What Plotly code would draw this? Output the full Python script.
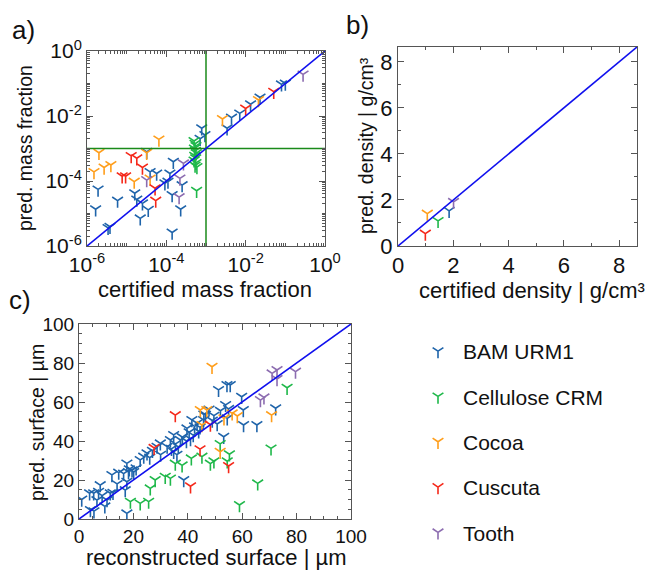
import plotly.graph_objects as go

categories = ["BAM URM1", "Cellulose CRM", "Cocoa", "Cuscuta", "Tooth"]
colors = ["#1f64aa", "#1fb84a", "#ff9e1b", "#f5281a", "#8c6cb0"]

# ---- panel a: certified vs predicted mass fraction (log-log)
a_bam_x = [3.2e-5, 3.9e-5, 5.7e-5, 1.5e-4, 1.23e-4, 1.1e-4, 1.9e-6, 5.9e-6, 1.65e-6, 1.6e-5,
           1.8e-5, 2.5e-5, 3.5e-5, 2.2e-5, 3.8e-6, 3.4e-6, 1.4e-4, 9.2e-5, 2.5e-4, 2.3e-4,
           1.4e-4, 7.8e-4, 9.4e-4, 7.1e-4, 3.4e-3, 4.4e-3, 7.1e-3, 1.33e-2, 2.3e-2, 8.0e-2, 0.10]
a_bam_y = [7.9e-4, 1.9e-4, 1.7e-4, 3.9e-4, 1.7e-4, 9.6e-5, 5.5e-5, 2.5e-5, 1.35e-5, 4.2e-5,
           2.7e-5, 2.05e-5, 1.3e-5, 7.1e-6, 3.9e-6, 3.6e-6, 3.7e-5, 8.5e-5, 7.5e-5, 1.35e-5,
           2.6e-6, 4.2e-3, 2.6e-3, 2.0e-3, 4.2e-3, 8.9e-3, 1.2e-2, 2.3e-2, 3.7e-2, 9.4e-2, 0.10]
a_cell_x = [5.0e-4, 5.3e-4, 5.6e-4, 5.1e-4, 5.4e-4, 5.7e-4, 5.2e-4, 5.5e-4, 5.0e-4, 5.6e-4,
            5.3e-4, 5.9e-4, 5.8e-4]
a_cell_y = [1.7e-3, 1.4e-3, 1.2e-3, 1.0e-3, 8.5e-4, 7.2e-4, 6.0e-4, 5.0e-4, 4.3e-4, 3.6e-4,
            3.0e-4, 2.7e-4, 5.0e-5]
a_cocoa_x = [6.5e-5, 2.0e-6, 1.5e-6, 2.7e-6, 4.0e-6, 1.55e-5, 3.2e-5, 3.9e-5, 2.6e-3, 2.1e-2]
a_cocoa_y = [1.9e-3, 7.4e-4, 1.9e-4, 2.6e-4, 3.1e-4, 9.6e-5, 7.4e-4, 1.2e-4, 8.1e-3, 3.1e-2]
a_cusc_x = [1.3e-5, 1.8e-5, 2.5e-5, 7.7e-6, 9.4e-6, 5.2e-5, 5.4e-5, 1.0e-2, 5.1e-2]
a_cusc_y = [5.9e-4, 5.0e-4, 2.6e-4, 1.4e-4, 1.4e-4, 6.0e-5, 2.5e-5, 1.7e-2, 5.6e-2]
a_tooth_x = [2.7e-4, 3.2e-5, 2.2e-4, 2.1e-4, 0.28]
a_tooth_y = [3.5e-4, 1.07e-4, 1.2e-4, 3.2e-5, 0.19]
a_limit = [1e-6, 1.0]
a_threshold = 1e-3
a_label_exp = [-6, -4, -2, 0]
a_decade_exp = [-6, -5, -4, -3, -2, -1]

# ---- panel b: density (one point per material, order as categories)
b_x = [1.85, 1.45, 1.06, 0.99, 2.01]
b_y = [1.53, 1.09, 1.41, 0.54, 1.92]
b_limit = [0, 8.65]

# ---- panel c: surface
c_bam_x = [1.0, 3.9, 5.4, 7.2, 4.2, 5.5, 7.8, 6.6, 8.5, 10.3, 11.5, 12.5, 12.1, 14.6, 16.4,
           18.2, 19.5, 20.1, 17.6, 18.5, 17.6, 17.0, 17.6, 22.5, 23.8, 25.0, 26.0, 28.7, 29.9,
           32.4, 33.6, 34.8, 34.0, 34.8, 35.5, 36.5, 37.3, 38.0, 39.7, 40.5, 41.5, 42.5, 43.4,
           44.0, 45.8, 46.5, 45.9, 47.8, 49.6, 49.0, 50.8, 52.0, 53.9, 55.0, 54.5, 51.3, 54.4,
           55.6, 59.8, 60.4, 72.3, 60.5, 65.4, 53.2, 38.5, 41.0, 42.0, 36.0, 30.0, 27.0, 44.5,
           39.5, 9.5, 14.0, 21.0]
c_bam_y = [10.0, 13.2, 13.2, 14.0, 4.6, 4.0, 17.4, 9.7, 12.0, 9.7, 13.2, 13.5, 22.6, 23.8, 23.3,
           24.1, 25.0, 24.1, 28.5, 25.5, 19.1, 14.8, 2.9, 30.3, 32.0, 33.7, 31.5, 37.1, 38.8,
           37.1, 40.5, 43.1, 36.0, 34.5, 38.5, 37.0, 40.5, 42.0, 46.5, 44.5, 50.8, 47.5, 49.1,
           45.0, 50.8, 53.5, 53.6, 56.2, 53.0, 50.5, 48.7, 55.5, 58.5, 56.5, 51.6, 66.2, 68.7,
           68.7, 62.7, 55.9, 56.8, 48.2, 48.2, 42.2, 20.0, 41.0, 43.0, 33.0, 33.0, 35.0, 47.0,
           40.0, 6.5, 18.0, 26.0]
c_cell_x = [18.9, 22.5, 25.6, 26.2, 28.0, 31.7, 33.6, 35.4, 37.9, 41.3, 45.2, 48.3, 49.6, 51.9,
            55.3, 54.5, 70.6, 65.7, 59.0, 76.5]
c_cell_y = [8.9, 8.0, 8.9, 15.7, 20.0, 21.7, 20.8, 28.4, 27.5, 31.1, 32.0, 28.4, 29.6, 38.5,
            33.2, 29.6, 36.2, 18.3, 7.2, 67.3]
c_cocoa_x = [48.9, 44.6, 45.2, 53.3, 56.3, 58.2, 70.8, 51.9, 47.0]
c_cocoa_y = [78.1, 55.9, 48.2, 51.6, 54.2, 52.8, 53.3, 34.5, 55.9]
c_cusc_x = [35.4, 27.6, 44.5, 41.0, 48.3, 55.0]
c_cusc_y = [53.3, 36.5, 35.8, 16.8, 48.4, 27.2]
c_tooth_x = [71.0, 72.8, 79.6, 72.8, 66.7, 68.0]
c_tooth_y = [74.7, 76.4, 75.6, 71.8, 61.0, 62.4]
c_limit = [0, 100]

FONT = "Liberation Sans, Arial, sans-serif"
FRAME = "#555555"
MS = 9
MLW = 1.6


def marker(i):
    return dict(symbol="y-down", size=MS, color=colors[i],
                line=dict(color=colors[i], width=MLW))


fig = go.Figure()

a_sets = [(a_bam_x, a_bam_y), (a_cell_x, a_cell_y), (a_cocoa_x, a_cocoa_y),
          (a_cusc_x, a_cusc_y), (a_tooth_x, a_tooth_y)]
for i, (xs, ys) in enumerate(a_sets):
    fig.add_trace(go.Scatter(x=xs, y=ys, mode="markers", marker=marker(i),
                             showlegend=False, xaxis="x", yaxis="y"))
# threshold lines and identity line in panel a
fig.add_trace(go.Scatter(x=[a_threshold, a_threshold], y=a_limit, mode="lines",
                         line=dict(color="#1a8a1a", width=1.5), showlegend=False,
                         xaxis="x", yaxis="y"))
fig.add_trace(go.Scatter(x=a_limit, y=[a_threshold, a_threshold], mode="lines",
                         line=dict(color="#1a8a1a", width=1.5), showlegend=False,
                         xaxis="x", yaxis="y"))
fig.add_trace(go.Scatter(x=a_limit, y=a_limit, mode="lines",
                         line=dict(color="#1010ee", width=1.6), showlegend=False,
                         xaxis="x", yaxis="y"))

# panel b
for i in range(len(categories)):
    fig.add_trace(go.Scatter(x=[b_x[i]], y=[b_y[i]], mode="markers", marker=marker(i),
                             showlegend=False, xaxis="x2", yaxis="y2"))
fig.add_trace(go.Scatter(x=b_limit, y=b_limit, mode="lines",
                         line=dict(color="#1010ee", width=1.6), showlegend=False,
                         xaxis="x2", yaxis="y2"))

# panel c (these carry the legend)
c_sets = [(c_bam_x, c_bam_y), (c_cell_x, c_cell_y), (c_cocoa_x, c_cocoa_y),
          (c_cusc_x, c_cusc_y), (c_tooth_x, c_tooth_y)]
for i, (xs, ys) in enumerate(c_sets):
    fig.add_trace(go.Scatter(x=xs, y=ys, mode="markers", marker=marker(i),
                             name=categories[i], legendgroup=categories[i],
                             showlegend=True, xaxis="x3", yaxis="y3"))
fig.add_trace(go.Scatter(x=c_limit, y=c_limit, mode="lines",
                         line=dict(color="#1010ee", width=1.6), showlegend=False,
                         xaxis="x3", yaxis="y3"))

W, H = 651, 573


def dx(p0, p1):
    return [p0 / W, p1 / W]


def dy(top, bottom):
    return [1 - bottom / H, 1 - top / H]


common = dict(showline=True, linecolor=FRAME, linewidth=1, mirror="ticks",
              ticks="inside", tickcolor=FRAME, ticklen=6, showgrid=False,
              zeroline=False, automargin=False)

log_vals = [10.0 ** e for e in a_label_exp]
log_text = ["10<sup>%d</sup>" % e for e in a_label_exp]
log_minor = ([10.0 ** e for e in a_decade_exp if e % 2 != 0] +
             [k * 10.0 ** e for e in a_decade_exp for k in range(2, 10)])

minor_log = dict(tickvals=log_minor, ticks="inside", ticklen=3, tickcolor=FRAME)

fig.update_layout(
    width=W, height=H, margin=dict(l=0, r=0, t=0, b=0, autoexpand=False),
    paper_bgcolor="white", plot_bgcolor="white",
    font=dict(family=FONT, color="#111111"),
    xaxis=dict(common, domain=dx(87, 325), type="log", range=[-6, 0], anchor="y",
               tickvals=log_vals, ticktext=log_text, tickfont=dict(size=21),
               minor=minor_log),
    yaxis=dict(common, domain=dy(51, 246), type="log", range=[-6, 0], anchor="x",
               tickvals=log_vals, ticktext=log_text, tickfont=dict(size=21),
               minor=minor_log),
    xaxis2=dict(common, domain=dx(398, 637), range=b_limit, anchor="y2", dtick=2,
                tickfont=dict(size=22),
                minor=dict(dtick=1, ticks="inside", ticklen=3, tickcolor=FRAME)),
    yaxis2=dict(common, domain=dy(47, 246), range=b_limit, anchor="x2", dtick=2,
                tickfont=dict(size=22),
                minor=dict(dtick=1, ticks="inside", ticklen=3, tickcolor=FRAME)),
    xaxis3=dict(common, domain=dx(79, 351), range=c_limit, anchor="y3", dtick=20,
                tickfont=dict(size=19),
                minor=dict(dtick=5, ticks="inside", ticklen=3, tickcolor=FRAME)),
    yaxis3=dict(common, domain=dy(324, 519), range=c_limit, anchor="x3", dtick=20,
                tickfont=dict(size=19),
                minor=dict(dtick=5, ticks="inside", ticklen=3, tickcolor=FRAME)),
    legend=dict(x=413 / W, y=1 - 331 / H, xanchor="left", yanchor="top",
                font=dict(size=21, family=FONT, color="#111111"),
                tracegroupgap=15, itemwidth=40, bgcolor="rgba(0,0,0,0)"),
)


def label(text, x, y, size, angle=0):
    fig.add_annotation(text=text, x=x / W, y=1 - y / H, xref="paper", yref="paper",
                       showarrow=False, textangle=angle,
                       font=dict(size=size, family=FONT, color="#111111"),
                       xanchor="center", yanchor="middle")


label("a)", 23, 30, 26)
label("b)", 357, 25, 26)
label("c)", 20, 300, 26)
label("certified mass fraction", 205, 289, 22)
label("pred. mass fraction", 25, 148, 19.5, -90)
label("certified density | g/cm³", 532, 290, 22)
label("pred. density | g/cm³", 366, 146, 19.5, -90)
label("reconstructed surface | µm", 216, 557, 22)
label("pred. surface | µm", 37, 423, 19.5, -90)

fig.write_html("out.html", post_script="document.body.style.margin='0';",
               config={"displayModeBar": False})
